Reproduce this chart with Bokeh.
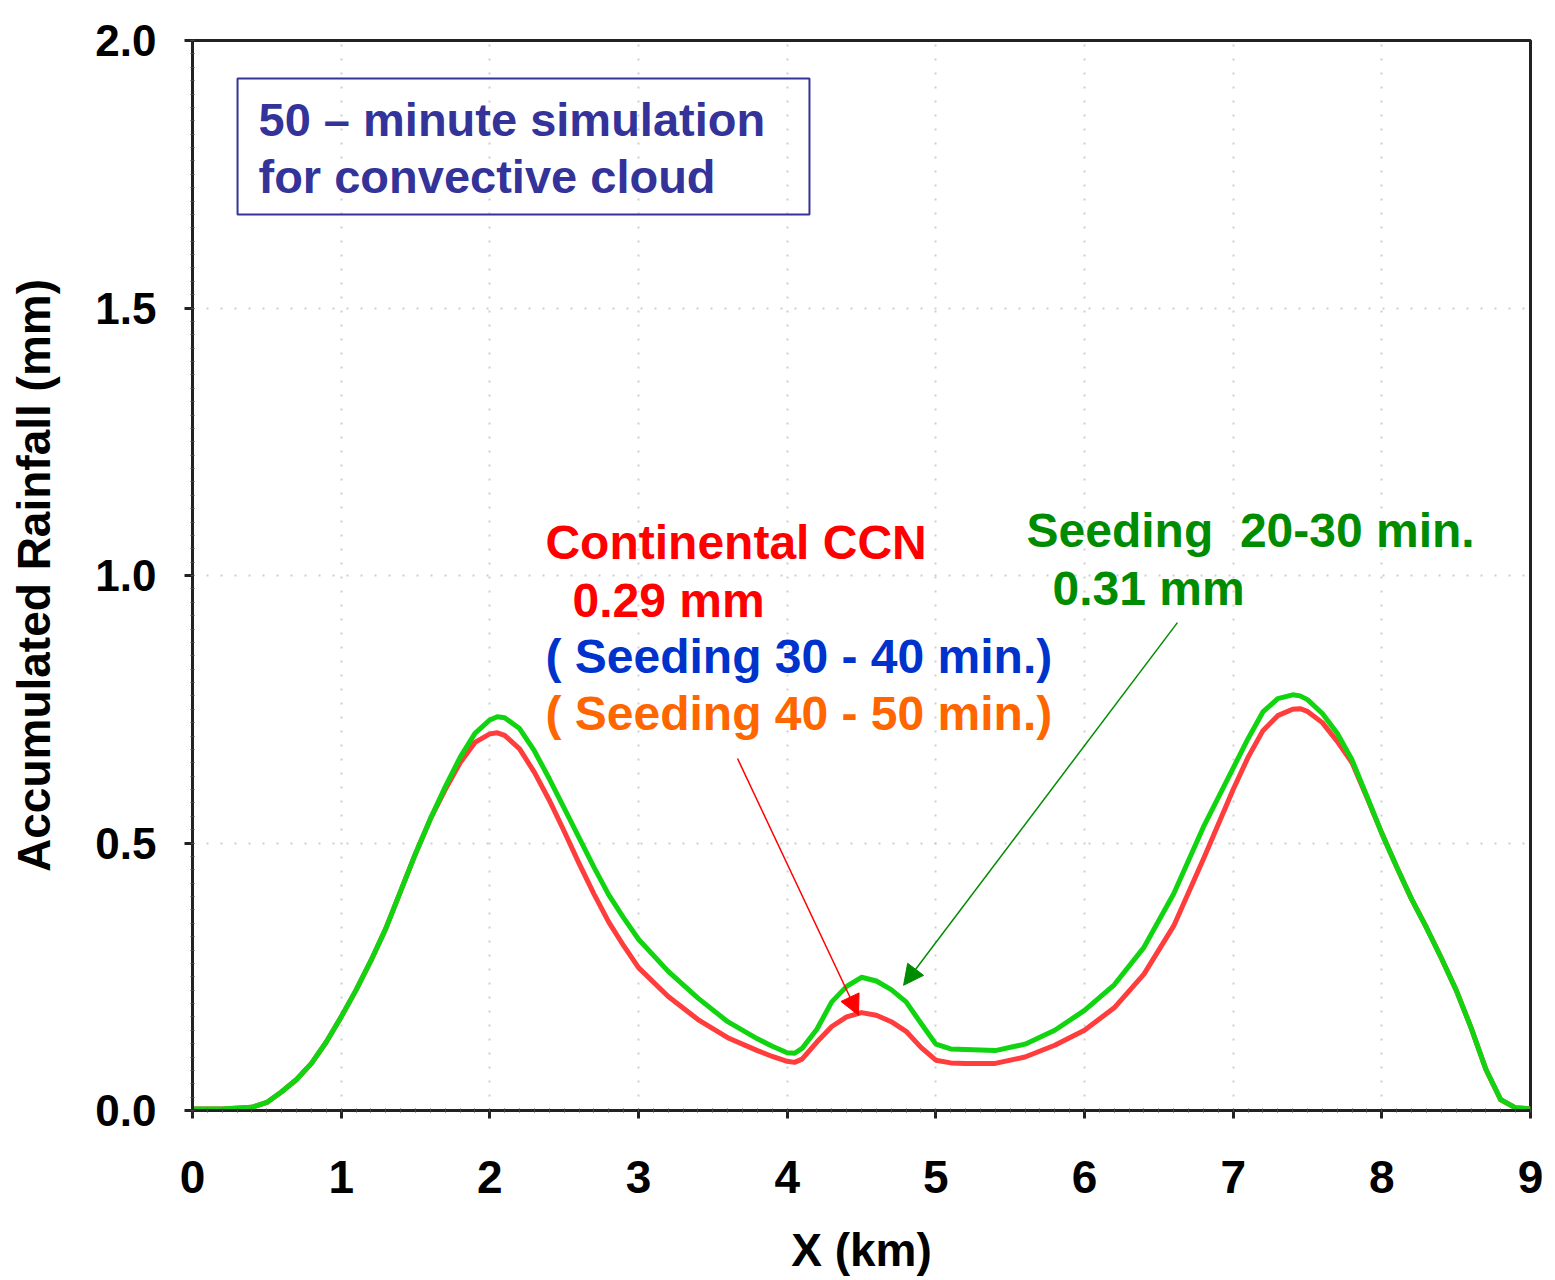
from bokeh.plotting import figure
from bokeh.models import (Range1d, FixedTicker, Label, BoxAnnotation, Arrow, NormalHead,
                          CustomJSTickFormatter)
from bokeh.embed import file_html
from bokeh.resources import INLINE

# ---------------- data ----------------
x_km = [0.0, 0.2, 0.4, 0.5, 0.6, 0.7, 0.8, 0.9, 1.0, 1.1, 1.2, 1.3, 1.4, 1.5, 1.6, 1.7,
        1.8, 1.9, 2.0, 2.05, 2.1, 2.2, 2.3, 2.4, 2.5, 2.6, 2.7, 2.8, 2.9, 3.0, 3.2, 3.4,
        3.6, 3.8, 3.9, 4.0, 4.05, 4.1, 4.2, 4.3, 4.4, 4.5, 4.6, 4.7, 4.8, 4.9, 5.0, 5.1,
        5.2, 5.4, 5.6, 5.8, 6.0, 6.2, 6.4, 6.6, 6.8, 7.0, 7.1, 7.2, 7.3, 7.4, 7.45, 7.5,
        7.6, 7.7, 7.8, 7.9, 8.0, 8.1, 8.2, 8.3, 8.4, 8.5, 8.6, 8.7, 8.8, 8.9, 9.0]

seeding_20_30 = [0.003, 0.003, 0.006, 0.015, 0.035, 0.058, 0.088, 0.128, 0.175, 0.225,
                 0.28, 0.34, 0.41, 0.48, 0.545, 0.605, 0.66, 0.705, 0.73, 0.736, 0.734,
                 0.714, 0.672, 0.62, 0.565, 0.51, 0.455, 0.403, 0.36, 0.32, 0.26, 0.21,
                 0.166, 0.134, 0.12, 0.108, 0.107, 0.116, 0.152, 0.203, 0.232, 0.249,
                 0.242, 0.226, 0.203, 0.163, 0.124, 0.115, 0.114, 0.112, 0.124, 0.15,
                 0.187, 0.235, 0.305, 0.405, 0.53, 0.64, 0.695, 0.745, 0.77, 0.777,
                 0.775, 0.768, 0.742, 0.705, 0.655, 0.587, 0.518, 0.455, 0.395, 0.342,
                 0.285, 0.225, 0.155, 0.077, 0.02, 0.005, 0.003]

continental_ccn = [0.003, 0.003, 0.006, 0.015, 0.035, 0.058, 0.088, 0.128, 0.175, 0.225,
                   0.28, 0.34, 0.41, 0.48, 0.545, 0.6, 0.65, 0.688, 0.704, 0.706, 0.701,
                   0.676, 0.632, 0.58, 0.522, 0.462, 0.405, 0.352, 0.308, 0.267, 0.213,
                   0.17, 0.136, 0.112, 0.101, 0.092, 0.09, 0.096, 0.128, 0.157, 0.175,
                   0.183, 0.178, 0.166, 0.148, 0.118, 0.094, 0.089, 0.088, 0.088, 0.1,
                   0.122, 0.15, 0.192, 0.255, 0.345, 0.47, 0.6, 0.66, 0.71, 0.738, 0.75,
                   0.751, 0.746, 0.725, 0.69, 0.65, 0.585, 0.518, 0.455, 0.395, 0.342,
                   0.285, 0.225, 0.155, 0.077, 0.02, 0.005, 0.003]

x_ticks = [0, 1, 2, 3, 4, 5, 6, 7, 8, 9]
y_ticks = [0.0, 0.5, 1.0, 1.5, 2.0]

FONT = "Liberation Sans"

p = figure(width=1555, height=1280, output_backend="svg", toolbar_location=None,
           x_range=Range1d(0, 9), y_range=Range1d(0, 2))
p.min_border_left = 192
p.min_border_right = 25
p.min_border_top = 40
p.min_border_bottom = 170
p.background_fill_color = "white"
p.border_fill_color = "white"
p.outline_line_color = "#222222"
p.outline_line_width = 3

# axes
p.xaxis.ticker = FixedTicker(ticks=x_ticks, minor_ticks=[i / 10 for i in range(0, 91)])
p.yaxis.ticker = FixedTicker(ticks=y_ticks, minor_ticks=[i * 0.025 for i in range(0, 81)])
p.yaxis.formatter = CustomJSTickFormatter(code="return tick.toFixed(1);")
for ax in (p.xaxis[0], p.yaxis[0]):
    ax.axis_line_color = "#222222"
    ax.axis_line_width = 3
    ax.major_tick_line_color = "#222222"
    ax.major_tick_line_width = 3
    ax.major_tick_out = 8
    ax.major_tick_in = 0
    ax.minor_tick_line_color = "#444444"
    ax.minor_tick_line_width = 1
    ax.minor_tick_out = 2
    ax.minor_tick_in = 2
    ax.major_label_text_font = FONT
    ax.major_label_text_font_style = "bold"
    ax.major_label_text_color = "black"
    ax.axis_label_text_font = FONT
    ax.axis_label_text_font_style = "bold"
    ax.axis_label_text_color = "black"
    ax.axis_label_text_font_size = "46px"

p.xaxis.major_label_text_font_size = "46px"
p.yaxis.major_label_text_font_size = "44px"
p.xaxis.major_label_standoff = 42
p.yaxis.major_label_standoff = 28
p.xaxis.axis_label = "X (km)"
p.yaxis.axis_label = "Accumulated Rainfall (mm)"
p.xaxis.axis_label_standoff = 28
p.yaxis.axis_label_standoff = 32

# grid
for g in (p.xgrid[0], p.ygrid[0]):
    g.grid_line_color = "#cfcfcf"
    g.grid_line_width = 2
    g.grid_line_dash = "2 12"

# curves
p.line(x_km, continental_ccn, line_color="#ff3d3d", line_width=5, line_join="round")
p.line(x_km, seeding_20_30, line_color="#11d411", line_width=5, line_join="round")

# info box
p.add_layout(BoxAnnotation(left=0.303, right=4.150, bottom=1.675, top=1.929,
                           fill_alpha=0, line_color="#333399", line_alpha=1.0,
                           line_width=2))


def lab(x, y, text, color, size="48px"):
    p.add_layout(Label(x=x, y=y, text=text, text_color=color, text_font=FONT,
                       text_font_style="bold", text_font_size=size,
                       text_baseline="alphabetic", text_align="left"))


lab(0.444, 1.853, "50 \u2013 minute simulation", "#333399", "47px")
lab(0.444, 1.746, "for convective cloud", "#333399", "47px")

lab(2.374, 1.061, "Continental CCN", "#ff0000")
lab(2.556, 0.954, "0.29 mm", "#ff0000")
lab(2.374, 0.849, "( Seeding 30 - 40 min.)", "#0033cc")
lab(2.374, 0.742, "( Seeding 40 - 50 min.)", "#ff6600")

lab(5.610, 1.084, "Seeding\u00a0 20-30 min.", "#008c00")
lab(5.785, 0.976, "0.31 mm", "#008c00")

# arrows
p.add_layout(Arrow(end=NormalHead(size=20, fill_color="#ff0000", line_color="#ff0000"),
                   x_start=3.666, y_start=0.658, x_end=4.480, y_end=0.178,
                   line_color="#ff0000", line_width=1.5))
p.add_layout(Arrow(end=NormalHead(size=20, fill_color="#008c00", line_color="#008c00"),
                   x_start=6.625, y_start=0.912, x_end=4.783, y_end=0.234,
                   line_color="#008c00", line_width=1.5))

open("out.html", "w").write(file_html(p, INLINE))
